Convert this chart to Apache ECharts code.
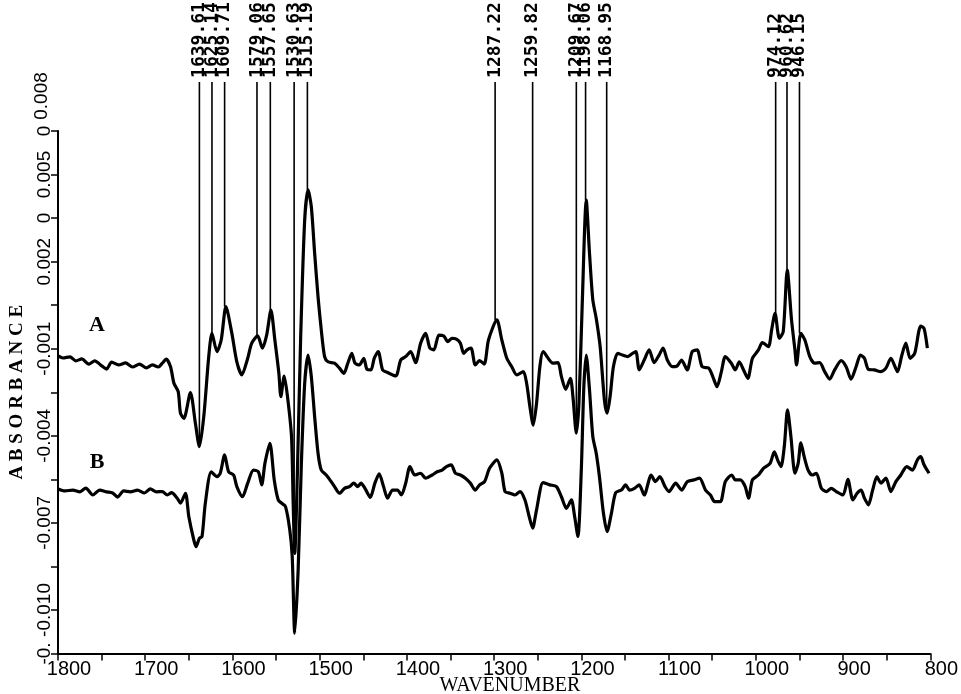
<!DOCTYPE html>
<html><head><meta charset="utf-8">
<script src="https://cdn.jsdelivr.net/npm/echarts@6/dist/echarts.min.js"></script>
<style>html,body{margin:0;padding:0;background:#fff}#c{width:961px;height:694px}</style>
</head><body><div id="c"></div>
<script>
// Spectrum A: [wavenumber, absorbance]
const seriesA = [
[1800.0,-0.00125],[1794.3,-0.00132],[1786.3,-0.00128],[1779.5,-0.00142],[1772.7,-0.00135],[1764.7,-0.00153],[1757.9,-0.00142],[1749.9,-0.00159],[1744.2,-0.00170],[1738.5,-0.00146],
[1730.5,-0.00156],[1722.6,-0.00149],[1714.6,-0.00163],[1706.6,-0.00153],[1698.6,-0.00166],[1691.8,-0.00156],[1685.0,-0.00163],[1680.4,-0.00150],[1675.9,-0.00136],[1671.0,-0.00162],
[1667.1,-0.00219],[1662.2,-0.00248],[1659.6,-0.00322],[1655.7,-0.00340],[1648.2,-0.00251],[1642.5,-0.00357],[1637.9,-0.00437],[1632.9,-0.00334],[1627.2,-0.00127],[1623.5,-0.00047],
[1617.8,-0.00110],[1612.9,-0.00070],[1607.5,0.00045],[1600.7,-0.00047],[1595.0,-0.00145],[1589.3,-0.00190],[1582.5,-0.00133],[1577.9,-0.00081],[1571.1,-0.00056],[1565.7,-0.00098],
[1560.8,-0.00053],[1555.9,0.00033],[1551.4,-0.00070],[1546.8,-0.00185],[1544.5,-0.00265],[1540.7,-0.00194],[1536.9,-0.00265],[1532.3,-0.00403],[1530.4,-0.00631],[1528.6,-0.00805],
[1525.5,-0.00518],[1521.8,-0.00059],[1517.2,0.00344],[1513.3,0.00447],[1509.6,0.00389],[1505.8,0.00229],[1501.9,0.00079],[1498.2,-0.00035],[1494.4,-0.00127],[1490.5,-0.00145],
[1483.0,-0.00150],[1477.3,-0.00167],[1472.3,-0.00185],[1467.8,-0.00150],[1463.2,-0.00116],[1459.5,-0.00150],[1454.6,-0.00156],[1449.5,-0.00133],[1445.8,-0.00171],[1441.2,-0.00173],
[1437.5,-0.00133],[1432.9,-0.00110],[1427.9,-0.00173],[1422.2,-0.00182],[1412.8,-0.00194],[1407.1,-0.00139],[1401.4,-0.00127],[1395.7,-0.00110],[1390.0,-0.00148],[1384.3,-0.00081],
[1378.6,-0.00047],[1373.7,-0.00098],[1369.1,-0.00104],[1363.4,-0.00053],[1357.7,-0.00056],[1353.2,-0.00076],[1348.2,-0.00064],[1343.3,-0.00067],[1338.7,-0.00081],[1335.0,-0.00116],
[1331.1,-0.00104],[1326.5,-0.00098],[1321.6,-0.00156],[1316.7,-0.00141],[1311.4,-0.00153],[1306.5,-0.00070],[1296.9,-0.00001],[1291.2,-0.00070],[1285.5,-0.00133],[1279.8,-0.00162],
[1274.1,-0.00190],[1266.6,-0.00179],[1262.8,-0.00219],[1259.0,-0.00300],[1255.2,-0.00363],[1251.4,-0.00288],[1247.6,-0.00162],[1243.9,-0.00110],[1232.5,-0.00150],[1226.8,-0.00148],
[1222.9,-0.00196],[1218.0,-0.00240],[1212.6,-0.00202],[1209.7,-0.00265],[1205.8,-0.00391],[1202.8,-0.00288],[1199.0,0.00057],[1194.4,0.00412],[1190.7,0.00229],[1186.9,0.00068],
[1183.0,0.00005],[1178.5,-0.00093],[1173.6,-0.00277],[1170.5,-0.00322],[1167.1,-0.00265],[1163.3,-0.00162],[1158.4,-0.00116],[1152.7,-0.00122],[1147.0,-0.00127],[1141.3,-0.00116],
[1137.5,-0.00110],[1133.7,-0.00173],[1128.0,-0.00139],[1122.3,-0.00104],[1116.6,-0.00148],[1110.9,-0.00122],[1106.4,-0.00098],[1101.5,-0.00139],[1095.8,-0.00162],[1090.1,-0.00159],
[1085.1,-0.00139],[1078.7,-0.00173],[1073.0,-0.00110],[1067.3,-0.00104],[1061.6,-0.00162],[1054.0,-0.00167],[1049.4,-0.00196],[1044.5,-0.00231],[1039.5,-0.00179],[1035.0,-0.00127],
[1028.1,-0.00150],[1023.6,-0.00173],[1019.0,-0.00145],[1014.1,-0.00173],[1009.2,-0.00202],[1003.9,-0.00133],[997.0,-0.00104],[992.5,-0.00079],[985.6,-0.00093],[981.9,-0.00035],
[978.0,0.00022],[973.1,-0.00064],[968.6,-0.00041],[964.0,0.00171],[959.1,-0.00001],[955.2,-0.00104],[953.4,-0.00156],[948.4,-0.00047],[943.8,-0.00070],[938.2,-0.00127],
[932.5,-0.00150],[926.8,-0.00148],[921.1,-0.00179],[915.4,-0.00205],[909.7,-0.00173],[902.2,-0.00141],[896.5,-0.00162],[890.8,-0.00205],[885.1,-0.00162],[880.1,-0.00122],
[875.5,-0.00133],[871.0,-0.00171],[864.1,-0.00173],[856.6,-0.00179],[850.9,-0.00167],[845.2,-0.00133],[837.6,-0.00179],[833.0,-0.00127],[828.1,-0.00081],[823.1,-0.00133],
[817.9,-0.00116],[811.0,-0.00022],[807.2,-0.00030],[803.4,-0.00098]
];
// Spectrum B: [wavenumber, absorbance]
const seriesB = [
[1800.0,-0.00583],[1792.0,-0.00590],[1782.9,-0.00587],[1774.9,-0.00593],[1768.1,-0.00580],[1760.1,-0.00604],[1752.2,-0.00587],[1744.2,-0.00593],[1737.4,-0.00597],[1731.7,-0.00611],
[1724.8,-0.00590],[1716.9,-0.00593],[1708.9,-0.00587],[1700.9,-0.00597],[1694.1,-0.00583],[1687.2,-0.00593],[1680.4,-0.00592],[1674.7,-0.00604],[1669.8,-0.00596],[1663.3,-0.00615],
[1659.6,-0.00632],[1653.9,-0.00598],[1650.0,-0.00679],[1644.3,-0.00759],[1641.7,-0.00782],[1637.9,-0.00753],[1634.9,-0.00747],[1631.1,-0.00632],[1624.3,-0.00524],[1617.8,-0.00541],
[1614.0,-0.00529],[1609.0,-0.00466],[1604.4,-0.00524],[1598.7,-0.00535],[1595.0,-0.00575],[1588.5,-0.00610],[1582.5,-0.00563],[1576.0,-0.00518],[1570.3,-0.00524],[1566.5,-0.00569],
[1562.8,-0.00495],[1557.1,-0.00426],[1552.1,-0.00552],[1547.5,-0.00621],[1543.7,-0.00632],[1539.2,-0.00644],[1534.3,-0.00724],[1531.5,-0.00816],[1528.6,-0.01080],[1524.7,-0.00862],
[1521.0,-0.00495],[1517.2,-0.00219],[1513.3,-0.00122],[1509.6,-0.00196],[1505.8,-0.00334],[1501.9,-0.00460],[1498.2,-0.00518],[1492.5,-0.00535],[1486.8,-0.00558],[1483.0,-0.00575],
[1477.3,-0.00598],[1471.6,-0.00581],[1465.9,-0.00575],[1460.9,-0.00563],[1456.4,-0.00575],[1452.6,-0.00563],[1448.1,-0.00581],[1442.0,-0.00612],[1436.7,-0.00563],[1431.8,-0.00531],
[1426.8,-0.00575],[1422.2,-0.00615],[1416.5,-0.00587],[1410.8,-0.00587],[1406.3,-0.00604],[1401.4,-0.00563],[1396.5,-0.00506],[1391.1,-0.00535],[1384.3,-0.00529],[1378.6,-0.00546],
[1371.0,-0.00535],[1365.3,-0.00524],[1359.6,-0.00518],[1354.7,-0.00506],[1349.3,-0.00500],[1344.4,-0.00529],[1338.7,-0.00535],[1333.0,-0.00546],[1327.3,-0.00563],[1321.6,-0.00587],
[1316.7,-0.00569],[1311.0,-0.00558],[1305.3,-0.00512],[1296.9,-0.00483],[1291.2,-0.00529],[1287.5,-0.00592],[1281.8,-0.00598],[1276.1,-0.00604],[1270.4,-0.00592],[1264.7,-0.00621],
[1259.8,-0.00679],[1255.9,-0.00718],[1251.4,-0.00655],[1243.9,-0.00561],[1236.2,-0.00569],[1228.6,-0.00575],[1222.9,-0.00610],[1217.2,-0.00650],[1211.5,-0.00621],[1207.7,-0.00679],
[1204.0,-0.00747],[1200.1,-0.00518],[1197.2,-0.00231],[1194.4,-0.00122],[1190.7,-0.00242],[1186.9,-0.00403],[1183.0,-0.00460],[1179.3,-0.00541],[1174.7,-0.00667],[1170.5,-0.00730],
[1165.6,-0.00667],[1160.7,-0.00596],[1154.2,-0.00587],[1149.3,-0.00569],[1144.8,-0.00587],[1139.1,-0.00581],[1133.7,-0.00569],[1128.0,-0.00604],[1120.0,-0.00535],[1115.2,-0.00558],
[1110.1,-0.00541],[1104.1,-0.00575],[1099.6,-0.00592],[1091.9,-0.00563],[1085.1,-0.00587],[1078.7,-0.00558],[1071.1,-0.00552],[1064.6,-0.00546],[1057.7,-0.00587],[1052.1,-0.00604],
[1047.2,-0.00627],[1040.7,-0.00627],[1035.0,-0.00558],[1027.7,-0.00535],[1023.6,-0.00552],[1017.9,-0.00552],[1012.2,-0.00575],[1008.4,-0.00615],[1003.9,-0.00552],[997.0,-0.00535],
[991.3,-0.00512],[983.7,-0.00495],[978.8,-0.00455],[975.1,-0.00483],[971.2,-0.00506],[967.4,-0.00437],[963.7,-0.00311],[959.8,-0.00403],[955.2,-0.00529],[951.5,-0.00495],
[948.4,-0.00424],[944.6,-0.00472],[940.1,-0.00518],[935.5,-0.00535],[930.6,-0.00529],[924.9,-0.00581],[919.2,-0.00592],[913.6,-0.00581],[907.9,-0.00592],[900.2,-0.00604],
[894.5,-0.00550],[888.8,-0.00621],[883.9,-0.00598],[879.4,-0.00587],[875.5,-0.00615],[871.0,-0.00638],[866.1,-0.00587],[861.2,-0.00541],[856.6,-0.00563],[850.9,-0.00546],
[845.2,-0.00592],[839.5,-0.00558],[833.8,-0.00535],[827.0,-0.00506],[820.5,-0.00518],[814.8,-0.00483],[811.0,-0.00472],[807.2,-0.00500],[801.5,-0.00529]
];
// Peak markers: position on the wavenumber axis, absorbance at the lower end, printed label
const peakWave = [1637.9,1623.5,1609.0,1571.9,1556.6,1529.3,1514.1,1298.9,1255.9,1205.8,1195.2,1171.0,977.3,964.3,950.0];
const peakEnd = [-0.00437,-0.00047,0.00045,-0.00056,0.00033,-0.00805,0.00447,-0.00001,-0.00363,-0.00391,0.00412,-0.00322,0.00022,0.00171,-0.00047];
const peakLabels = ["1639.61","1625.14","1609.71","1579.06","1557.65","1530.63","1515.19","1287.22","1259.82","1209.67","1198.06","1168.95","974.12","960.62","946.15"];
const peakTop = 0.00819;
// Axis ticks
const yMin = -0.0115, yMax = 0.0065, yStep = 0.0015;
const yTickLabels = ['-0.', '-0.010', '', '-0.007', '', '-0.004', '', '-0.001', '', '0.002', '0', '0.005', '0'];
const yTopLabel = '0.008';
const xMin = 800, xMax = 1800, xStep = 100;

const chart = echarts.init(document.getElementById('c'), null, {renderer: 'canvas'});
const peakData = peakWave.map((w, i) => [w, peakTop, peakEnd[i], i]);

chart.setOption({
  animation: false,
  backgroundColor: '#fff',
  grid: {left: 55, right: 27, top: 131, bottom: 40.5, containLabel: false},
  xAxis: {
    type: 'value', min: xMin, max: xMax, interval: xStep, inverse: true,
    axisLine: {show: true, onZero: false, lineStyle: {color: '#000', width: 2}},
    axisTick: {show: true, length: 7, lineStyle: {color: '#000', width: 1.5}},
    minorTick: {show: true, splitNumber: 2, length: 7, lineStyle: {color: '#000', width: 1.5}},
    splitLine: {show: false},
    axisLabel: {color: '#000', fontSize: 20, fontFamily: 'Liberation Sans', margin: 6, padding: [0, 0, 0, 22],
      formatter: v => String(v)}
  },
  yAxis: {
    type: 'value', min: yMin, max: yMax, interval: yStep,
    axisLine: {show: true, onZero: false, lineStyle: {color: '#000', width: 2}},
    axisTick: {show: true, length: 7, lineStyle: {color: '#000', width: 1.5}},
    splitLine: {show: false},
    axisLabel: {rotate: 90, margin: 4, color: '#000', fontSize: 19, fontFamily: 'Liberation Sans',
      formatter: v => { const k = Math.round((v - yMin) / yStep); return yTickLabels[k] || ''; }},
    name: 'A B S O R B A N C E', nameLocation: 'middle', nameRotate: 90, nameGap: 31,
    nameTextStyle: {color: '#000', fontSize: 19, fontWeight: 'bold', fontFamily: 'Liberation Serif'}
  },
  graphic: [
    {type: 'text', x: 42, y: 96, rotation: Math.PI / 2,
      style: {text: yTopLabel, fill: '#000', fontSize: 19, fontFamily: 'Liberation Sans', align: 'center', verticalAlign: 'middle'}},
    {type: 'text', x: 97, y: 325,
      style: {text: 'A', fill: '#000', fontSize: 22, fontWeight: 'bold', fontFamily: 'Liberation Serif', align: 'center', verticalAlign: 'middle'}},
    {type: 'text', x: 97, y: 462,
      style: {text: 'B', fill: '#000', fontSize: 22, fontWeight: 'bold', fontFamily: 'Liberation Serif', align: 'center', verticalAlign: 'middle'}},
    {type: 'text', x: 510, y: 686,
      style: {text: 'WAVENUMBER', fill: '#000', fontSize: 20, fontFamily: 'Liberation Serif', align: 'center', verticalAlign: 'middle'}}
  ],
  series: [
    {type: 'line', name: 'A', data: seriesA, showSymbol: false, symbol: 'none', smooth: 0.25,
      lineStyle: {color: '#000', width: 3.2}},
    {type: 'line', name: 'B', data: seriesB, showSymbol: false, symbol: 'none', smooth: 0.25,
      lineStyle: {color: '#000', width: 3.2}},
    {type: 'custom', name: 'peaks', data: peakData, clip: false,
      encode: {x: 0, y: [1, 2]},
      renderItem: (params, api) => {
        const w = api.value(0);
        const p1 = api.coord([w, api.value(1)]);
        const p2 = api.coord([w, api.value(2)]);
        const idx = api.value(3);
        return {type: 'group', children: [
          {type: 'line', shape: {x1: p1[0], y1: p1[1], x2: p2[0], y2: p2[1]},
            style: {stroke: '#000', lineWidth: 1.6}},
          {type: 'text', x: p1[0], y: p1[1] - 4, rotation: Math.PI / 2,
            style: {text: peakLabels[idx], fill: '#000', fontSize: 18, fontWeight: 'bold',
              fontFamily: 'DejaVu Sans Mono', align: 'left', verticalAlign: 'middle'}}
        ]};
      }}
  ]
});
</script>
</body></html>
